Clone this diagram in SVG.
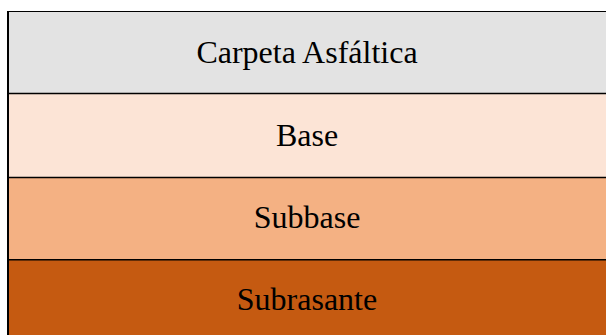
<svg xmlns="http://www.w3.org/2000/svg" width="606" height="335" viewBox="0 0 606 335">
<style>
.lbl{font-family:"Liberation Serif","Times New Roman",serif;font-size:32px;fill:#000;text-anchor:middle}
.ln{stroke:#000;fill:none}
</style>
<rect width="606" height="335" fill="#fff"/>
<g id="carpeta">
<rect x="8" y="11.5" width="598" height="82" fill="#E3E3E3"/>
<text class="lbl" x="307" y="63">Carpeta Asfáltica</text>
</g>
<g id="base">
<rect x="8" y="93.5" width="598" height="84" fill="#FCE4D6"/>
<text class="lbl" x="307" y="146">Base</text>
</g>
<g id="subbase">
<rect x="8" y="177.5" width="598" height="82" fill="#F4B183"/>
<text class="lbl" x="307" y="228">Subbase</text>
</g>
<g id="subrasante">
<rect x="8" y="259.5" width="598" height="76" fill="#C55A11"/>
<text class="lbl" x="307" y="310">Subrasante</text>
</g>
<g id="lines">
<line class="ln" x1="8" y1="11.5" x2="606" y2="11.5" stroke-width="1.2"/>
<line class="ln" x1="8" y1="93.5" x2="606" y2="93.5" stroke-width="1.3"/>
<line class="ln" x1="8" y1="177.5" x2="606" y2="177.5" stroke-width="1.3"/>
<line class="ln" x1="8" y1="259.8" x2="606" y2="259.8" stroke-width="1.6"/>
<line class="ln" x1="8" y1="11" x2="8" y2="335" stroke-width="2"/>
</g>
</svg>
